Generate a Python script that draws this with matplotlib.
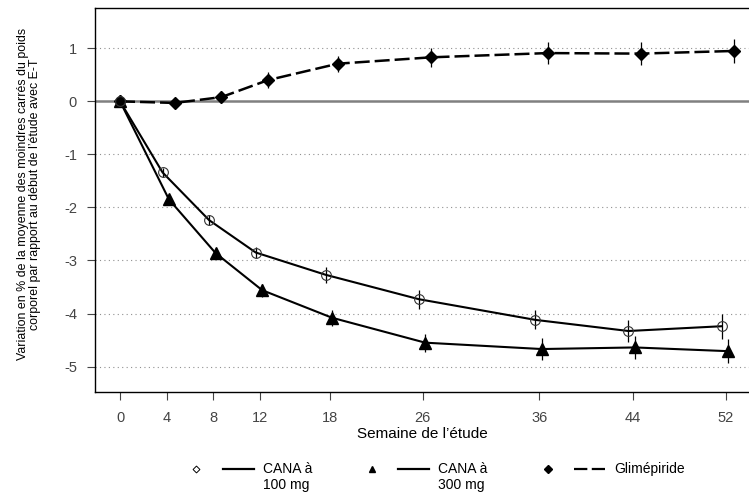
import numpy as np
import matplotlib
matplotlib.use('Agg')
import matplotlib.pyplot as plt
from matplotlib.lines import Line2D
from matplotlib.legend_handler import HandlerTuple

plt.rcParams['font.family'] = ['Liberation Sans', 'DejaVu Sans']
plt.rcParams['axes.unicode_minus'] = False

# ── data ────────────────────────────────────────────────
weeks = [0, 4, 8, 12, 18, 26, 36, 44, 52]

cana100 = [0.0, -1.34, -2.24, -2.85, -3.27, -3.73, -4.12, -4.33, -4.24]
cana100_err = [0.0, 0.08, 0.10, 0.11, 0.15, 0.18, 0.18, 0.21, 0.24]

cana300 = [0.0, -1.85, -2.86, -3.56, -4.08, -4.55, -4.67, -4.64, -4.71]
cana300_err = [0.0, 0.08, 0.10, 0.12, 0.15, 0.17, 0.20, 0.21, 0.23]

glim = [0.0, -0.03, 0.08, 0.40, 0.71, 0.83, 0.91, 0.90, 0.95]
glim_err = [0.0, 0.05, 0.12, 0.15, 0.15, 0.18, 0.21, 0.22, 0.22]

yticks = [1, 0, -1, -2, -3, -4, -5]

# small horizontal dodge so the error bars don't overlap (weeks)
DODGE = {'c100': -0.35, 'c300': 0.2, 'glim': 0.7}
DASH = (0, (6, 2))


def dodged(offset):
    w = np.array(weeks, dtype=float)
    return np.where(w == 0, w, w + offset)


class HandlerTupleUp(HandlerTuple):
    """marker + line side by side, lifted up to the first text line"""
    def create_artists(self, legend, orig_handle, xdescent, ydescent,
                       width, height, fontsize, trans):
        return super().create_artists(legend, orig_handle, xdescent,
                                      ydescent - 1.3 * fontsize, width, height,
                                      fontsize, trans)


fig = plt.figure(figsize=(7.49, 4.92), dpi=100)
ax = fig.add_axes([95 / 749, 100 / 492, 654 / 749, 384 / 492])

# grid
for yv in yticks:
    if yv == 0:
        ax.axhline(0, color='#808080', lw=1.8, zorder=1)
    else:
        ax.axhline(yv, color='#909090', lw=0.8, ls=(0, (1, 3)), zorder=1)

ax.errorbar(dodged(DODGE['glim']), glim, yerr=glim_err, color='black',
            ls=DASH, lw=1.8, marker='D', ms=6.5, mfc='black',
            ecolor='black', elinewidth=0.9, capsize=0, zorder=3)
ax.errorbar(dodged(DODGE['c300']), cana300, yerr=cana300_err, color='black',
            lw=1.5, marker='^', ms=8, mfc='black',
            ecolor='black', elinewidth=0.9, capsize=0, zorder=3)
ax.errorbar(dodged(DODGE['c100']), cana100, yerr=cana100_err, color='black',
            lw=1.5, marker='o', ms=7, mfc='none', mec='#333333', mew=0.8,
            ecolor='black', elinewidth=0.9, capsize=0, zorder=4)

ax.set_xlim(-2.15, 54.0)
ax.set_ylim(-5.48, 1.76)
ax.set_xticks(weeks)
ax.set_yticks(yticks)
ax.tick_params(axis='both', labelsize=10.5, labelcolor='#444444', color='#444444',
               width=0.8)
ax.tick_params(axis='x', length=5.5, pad=8)
ax.tick_params(axis='y', length=6, pad=7)

ax.spines['right'].set_visible(False)
for sp in ['left', 'top', 'bottom']:
    ax.spines[sp].set_linewidth(1.0)

ax.set_xlabel("Semaine de l\u2019étude", fontsize=11, labelpad=1.5)
ax.set_ylabel("Variation en % de la moyenne des moindres carrés du poids\n"
              "corporel par rapport au début de l\u2019étude avec E-T",
              fontsize=8.9, linespacing=0.95)
ax.yaxis.set_label_coords(-0.083, 0.515)

# legend: marker, then line, then label
h100 = (Line2D([], [], ls='none', marker='D', ms=3.5, mfc='white', mec='black', mew=0.7),
        Line2D([], [], color='black', lw=1.6))
h300 = (Line2D([], [], ls='none', marker='^', ms=5, color='black'),
        Line2D([], [], color='black', lw=1.6))
hgl = (Line2D([], [], ls='none', marker='D', ms=4, color='black'),
       Line2D([], [], color='black', lw=1.6, ls=DASH))
fig.legend([h100, h300, hgl], ['CANA à\n100 mg', 'CANA à\n300 mg', 'Glimépiride\n '],
           handler_map={tuple: HandlerTupleUp(ndivide=None, pad=0.79)},
           loc='upper left', bbox_to_anchor=(180.5 / 749, 1 - 462 / 492), ncol=3,
           frameon=False, fontsize=10, handlelength=5.26, columnspacing=3.2,
           handletextpad=0.65, borderaxespad=0, borderpad=0, labelspacing=0.3)

fig.savefig('out.png', dpi=100)
